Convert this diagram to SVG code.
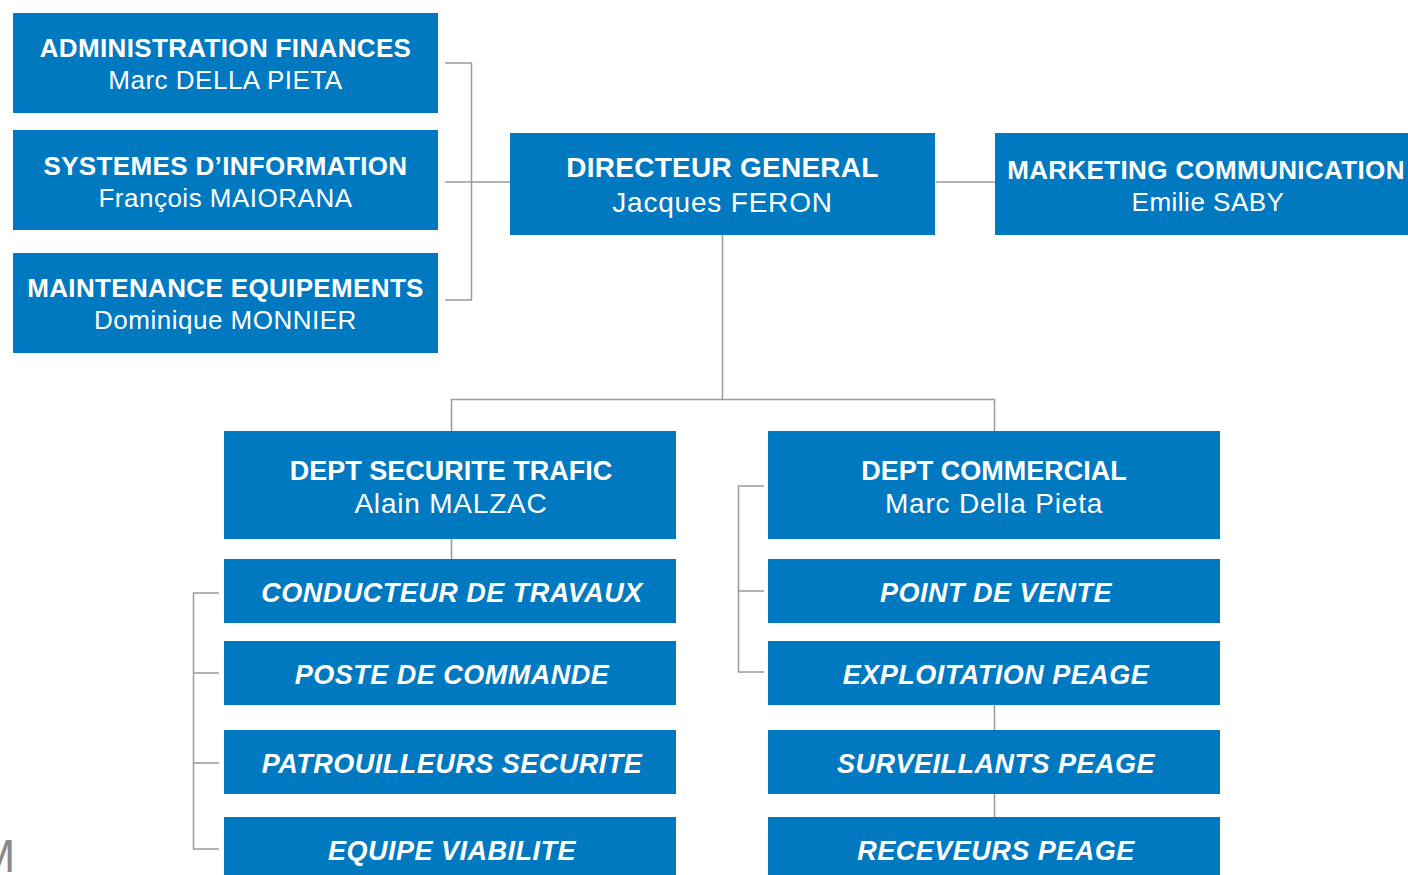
<svg xmlns="http://www.w3.org/2000/svg" width="1408" height="875" viewBox="0 0 1408 875">
  <style>
    .box { fill: #0079c1; }
    .t { font-family: "Liberation Sans", Arial, sans-serif; fill: #ffffff; text-anchor: middle; }
    .h { font-weight: bold; font-size: 26px; letter-spacing: 0.35px; }
    .n { font-size: 26px; letter-spacing: 0.5px; }
    .hb { font-weight: bold; font-size: 28px; letter-spacing: 0.25px; }
    .hd { font-weight: bold; font-size: 27px; }
    .nb { font-size: 28px; letter-spacing: 0.8px; }
    .u { font-weight: bold; font-style: italic; font-size: 27px; letter-spacing: 0.5px; }
    .link { fill: none; stroke: #9a9a9a; stroke-width: 1.5; }
  </style>

  <rect width="1408" height="875" fill="#ffffff"/>

  <!-- connectors -->
  <g id="connectors" class="link">
    <path d="M445 63 H471.5 V300 H445"/>
    <path d="M445 182 H510"/>
    <path d="M936 182 H995"/>
    <path d="M722.5 235 V399.5"/>
    <path d="M451.5 431 V399.5 H994.5 V431"/>
    <path d="M451.5 539 V559"/>
    <path d="M219 593 H193.5 V849 H219"/>
    <path d="M193.5 673 H219"/>
    <path d="M193.5 763 H219"/>
    <path d="M764 486 H738.5 V672 H764"/>
    <path d="M738.5 591 H764"/>
    <path d="M994.5 705 V730"/>
    <path d="M994.5 794 V817"/>
  </g>

  <!-- support units -->
  <g id="admin-finances">
    <rect class="box" x="13" y="13" width="425" height="100"/>
    <text class="t h" x="225.5" y="57">ADMINISTRATION FINANCES</text>
    <text class="t n" x="225.5" y="89">Marc DELLA PIETA</text>
  </g>
  <g id="systemes-information">
    <rect class="box" x="13" y="130" width="425" height="100"/>
    <text class="t h" x="225.5" y="175">SYSTEMES D’INFORMATION</text>
    <text class="t n" x="225.5" y="207">François MAIORANA</text>
  </g>
  <g id="maintenance-equipements">
    <rect class="box" x="13" y="253" width="425" height="100"/>
    <text class="t h" x="225.5" y="297">MAINTENANCE EQUIPEMENTS</text>
    <text class="t n" x="225.5" y="329">Dominique MONNIER</text>
  </g>

  <!-- management -->
  <g id="directeur-general">
    <rect class="box" x="510" y="133" width="425" height="102"/>
    <text class="t hb" x="722.5" y="177">DIRECTEUR GENERAL</text>
    <text class="t nb" x="722.5" y="212">Jacques FERON</text>
  </g>
  <g id="marketing-communication">
    <rect class="box" x="995" y="133" width="420" height="102"/>
    <text class="t h" x="1206" y="179">MARKETING COMMUNICATION</text>
    <text class="t n" x="1208" y="211">Emilie SABY</text>
  </g>

  <!-- departments -->
  <g id="dept-securite-trafic">
    <rect class="box" x="224" y="431" width="452" height="108"/>
    <text class="t hd" x="451" y="480">DEPT SECURITE TRAFIC</text>
    <text class="t nb" x="451" y="513">Alain MALZAC</text>
  </g>
  <g id="dept-commercial">
    <rect class="box" x="768" y="431" width="452" height="108"/>
    <text class="t hd" x="994" y="480">DEPT COMMERCIAL</text>
    <text class="t nb" x="994" y="513">Marc Della Pieta</text>
  </g>

  <!-- securite trafic units -->
  <g id="conducteur-travaux">
    <rect class="box" x="224" y="559" width="452" height="64"/>
    <text class="t u" x="452" y="602">CONDUCTEUR DE TRAVAUX</text>
  </g>
  <g id="poste-commande">
    <rect class="box" x="224" y="641" width="452" height="64"/>
    <text class="t u" x="452" y="684">POSTE DE COMMANDE</text>
  </g>
  <g id="patrouilleurs-securite">
    <rect class="box" x="224" y="730" width="452" height="64"/>
    <text class="t u" x="452" y="773">PATROUILLEURS SECURITE</text>
  </g>
  <g id="equipe-viabilite">
    <rect class="box" x="224" y="817" width="452" height="64"/>
    <text class="t u" x="452" y="860">EQUIPE VIABILITE</text>
  </g>

  <!-- commercial units -->
  <g id="point-vente">
    <rect class="box" x="768" y="559" width="452" height="64"/>
    <text class="t u" x="996" y="602">POINT DE VENTE</text>
  </g>
  <g id="exploitation-peage">
    <rect class="box" x="768" y="641" width="452" height="64"/>
    <text class="t u" x="996" y="684">EXPLOITATION PEAGE</text>
  </g>
  <g id="surveillants-peage">
    <rect class="box" x="768" y="730" width="452" height="64"/>
    <text class="t u" x="996" y="773">SURVEILLANTS PEAGE</text>
  </g>
  <g id="receveurs-peage">
    <rect class="box" x="768" y="817" width="452" height="64"/>
    <text class="t u" x="996" y="860">RECEVEURS PEAGE</text>
  </g>

  <!-- page mark at the lower-left edge -->
  <text x="-23" y="872" font-family="Liberation Sans, sans-serif" font-size="46" fill="#8a8a8a">M</text>
</svg>
